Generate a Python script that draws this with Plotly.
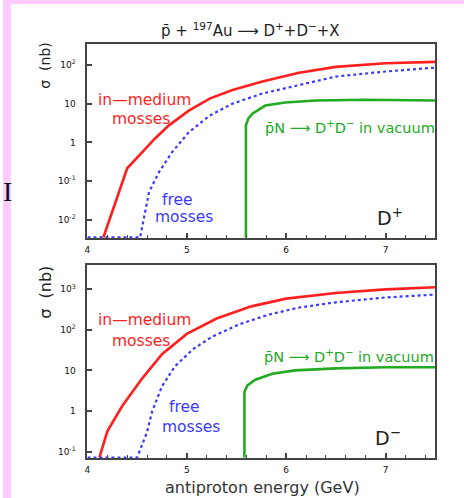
import plotly.graph_objects as go

W, H = 464, 498

# ---- D+ panel (upper) ----
dplus_med_e = [4.16, 4.28, 4.40, 4.55, 4.68, 4.82, 5.02, 5.23, 5.46, 5.76, 6.13, 6.5, 7.0, 7.5]
dplus_med_s = [0.0035, 0.0275, 0.214, 0.55, 1.26, 2.75, 6.6, 13.5, 22.4, 37.2, 63, 89, 110, 120]

dplus_free_e = [4.0, 4.53, 4.62, 4.72, 4.85, 5.02, 5.23, 5.46, 5.76, 6.13, 6.5, 7.0, 7.5]
dplus_free_s = [0.0035, 0.0035, 0.0525, 0.17, 0.55, 1.82, 4.9, 10, 18.2, 29.5, 50, 67.6, 85]

dplus_vac_e = [5.595, 5.595, 5.62, 5.66, 5.79, 5.99, 6.3, 6.8, 7.5]
dplus_vac_s = [0.0035, 2.75, 4.17, 5.5, 8.9, 10.7, 12.0, 12.6, 12.0]

# ---- D- panel (lower) ----
dminus_med_e = [4.12, 4.20, 4.35, 4.55, 4.75, 5.0, 5.3, 5.65, 6.0, 6.5, 7.0, 7.5]
dminus_med_s = [0.071, 0.316, 1.32, 6.3, 25.1, 79.4, 190, 380, 589, 813, 1000, 1122]

dminus_free_e = [4.0, 4.50, 4.60, 4.65, 4.75, 4.88, 5.06, 5.26, 5.53, 5.83, 6.13, 6.5, 7.0, 7.5]
dminus_free_s = [0.071, 0.071, 0.302, 0.955, 4.07, 12.6, 33.1, 69.2, 138, 240, 355, 479, 631, 741]

dminus_vac_e = [5.58, 5.58, 5.61, 5.69, 5.86, 6.09, 6.5, 7.0, 7.5]
dminus_vac_s = [0.071, 2.95, 4.27, 5.9, 8.3, 10.0, 11.2, 12.0, 12.0]

x_ticks = [4, 5, 6, 7]
top_yticks = [0.01, 0.1, 1, 10, 100]
top_yticktext = ["10<sup>-2</sup>", "10<sup>-1</sup>", "1", "10", "10<sup>2</sup>"]
bot_yticks = [0.1, 1, 10, 100, 1000]
bot_yticktext = ["10<sup>-1</sup>", "1", "10", "10<sup>2</sup>", "10<sup>3</sup>"]

RED = "#ff1f1f"
BLUE = "#3a3aff"
GREEN = "#22aa22"
FRAME = "#444444"
PINK = "#ffccff"
FONT = "DejaVu Sans"


def px_x(p):
    return p / W


def px_y(p):
    return 1 - p / H


fig = go.Figure()

curves = [
    (dplus_med_e, dplus_med_s, RED, "solid", 2.6, "x", "y"),
    (dplus_free_e, dplus_free_s, BLUE, "dot", 2.2, "x", "y"),
    (dplus_vac_e, dplus_vac_s, GREEN, "solid", 2.6, "x", "y"),
    (dminus_med_e, dminus_med_s, RED, "solid", 2.6, "x2", "y2"),
    (dminus_free_e, dminus_free_s, BLUE, "dot", 2.2, "x2", "y2"),
    (dminus_vac_e, dminus_vac_s, GREEN, "solid", 2.6, "x2", "y2"),
]
for xs, ys, col, dash, lw, xa, ya in curves:
    fig.add_trace(go.Scatter(x=xs, y=ys, mode="lines", xaxis=xa, yaxis=ya,
                             line=dict(color=col, width=lw, dash=dash),
                             showlegend=False, hoverinfo="skip"))

xdom = [px_x(85), px_x(435)]
axis_common = dict(showline=True, mirror=True, linecolor=FRAME, linewidth=2,
                   ticks="inside", tickcolor=FRAME, showgrid=False, zeroline=False,
                   tickfont=dict(family=FONT, size=9, color="#111"))

xaxis_cfg = dict(axis_common, range=[4, 7.5], tickvals=x_ticks, ticklen=5, tickwidth=1.5,
                 minor=dict(dtick=0.2, ticks="inside", ticklen=3, tickcolor=FRAME, tickwidth=1),
                 domain=xdom, ticklabelstandoff=2)

fig.update_layout(
    width=W, height=H,
    margin=dict(l=0, r=0, t=0, b=0, pad=0),
    paper_bgcolor="white",
    plot_bgcolor="white",
    showlegend=False,
    xaxis=dict(xaxis_cfg, anchor="y"),
    xaxis2=dict(xaxis_cfg, anchor="y2"),
    yaxis=dict(axis_common, type="log", range=[-2.47, 2.54], tickvals=top_yticks,
               ticktext=top_yticktext, ticklen=5, tickwidth=1.5, anchor="x",
               domain=[px_y(238), px_y(44)], ticklabelstandoff=8),
    yaxis2=dict(axis_common, type="log", range=[-1.16, 3.6], tickvals=bot_yticks,
                ticktext=bot_yticktext, ticklen=5, tickwidth=1.5, anchor="x2",
                domain=[px_y(458), px_y(265)], ticklabelstandoff=8),
)

# pink page border along the left and top edges
fig.add_shape(type="rect", xref="paper", yref="paper", layer="below",
              x0=0, x1=px_x(8), y0=0, y1=1, fillcolor=PINK, line=dict(width=0))
fig.add_shape(type="rect", xref="paper", yref="paper", layer="below",
              x0=0, x1=1, y0=px_y(4), y1=1, fillcolor=PINK, line=dict(width=0))


def label(text, x, y, color, size, xanchor="center", angle=0, family=FONT):
    fig.add_annotation(text=text, xref="paper", yref="paper", x=px_x(x), y=px_y(y),
                       xanchor=xanchor, yanchor="middle", showarrow=False, textangle=angle,
                       font=dict(family=family, size=size, color=color))


label("p\u0304 + <sup>197</sup>Au \u27f6 D<sup>+</sup>+D<sup>\u2212</sup>+X", 249, 30, "#222", 15)

# upper panel labels
label("in\u2014medium", 142, 100, RED, 15.5)
label("mosses", 139, 119, RED, 15.5)
label("free", 176, 200, BLUE, 15.5)
label("mosses", 182, 217, BLUE, 15.5)
label("p\u0304N \u27f6 D<sup>+</sup>D<sup>\u2212</sup> in vacuum", 262, 127, GREEN, 14.5, xanchor="left")
label("D<sup>+</sup>", 390, 217, "#222", 19)
label("\u03c3  (nb)", 42, 66, "#222", 14, angle=-90)

# lower panel labels
label("in\u2014medium", 142, 320, RED, 15.5)
label("mosses", 139, 341, RED, 15.5)
label("free", 183, 407, BLUE, 15.5)
label("mosses", 189, 427, BLUE, 15.5)
label("p\u0304N \u27f6 D<sup>+</sup>D<sup>\u2212</sup> in vacuum", 261, 356, GREEN, 14.5, xanchor="left")
label("D<sup>\u2212</sup>", 388, 437, "#222", 19)
label("\u03c3  (nb)", 42, 292, "#222", 16, angle=-90)

label("antiproton energy (GeV)", 261, 487, "#333", 16)

# stray glyph at the left margin
label("I", 5, 191, "#111", 28, family="Liberation Serif")

fig.write_html("out.html")
